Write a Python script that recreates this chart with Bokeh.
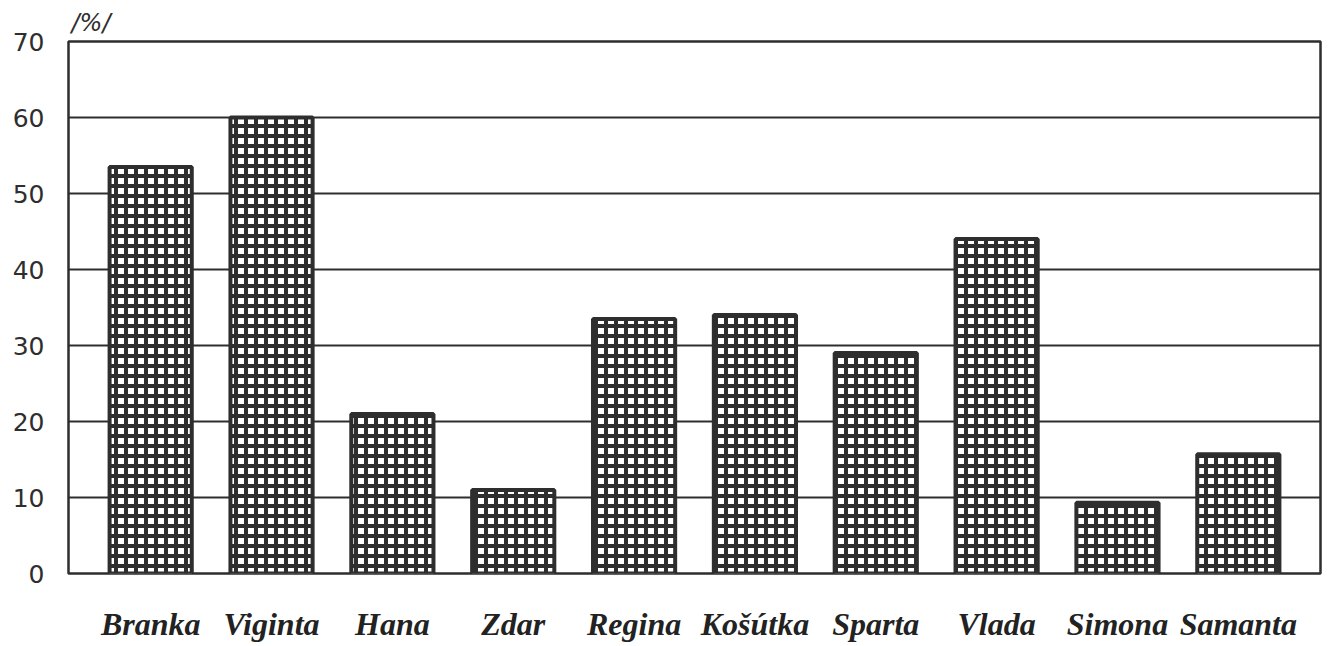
from bokeh.plotting import figure
from bokeh.models import ColumnDataSource, FactorRange, Range1d, FixedTicker
from bokeh.embed import file_html
from bokeh.resources import INLINE

names = ["Branka", "Viginta", "Hana", "Zdar", "Regina", "Košútka", "Sparta", "Vlada", "Simona", "Samanta"]
values = [53.5, 60, 21, 11, 33.5, 34, 29, 44, 9.3, 15.7]
y_ticks = [0, 10, 20, 30, 40, 50, 60, 70]
unit_label = "/%/"

INK = "#2e2e2e"

source = ColumnDataSource(data=dict(name=names, value=values))

p = figure(
    width=1322, height=644,
    x_range=FactorRange(factors=names, range_padding=0.18, range_padding_units="absolute"),
    y_range=Range1d(0, 70),
    output_backend="svg", toolbar_location=None,
    min_border_left=68, min_border_right=2, min_border_top=41, min_border_bottom=60,
    background_fill_color="white", border_fill_color="white",
)

p.vbar(x="name", top="value", width=0.68, source=source,
       fill_color="white", line_color=INK, line_width=4,
       hatch_pattern="+", hatch_color=INK, hatch_scale=10, hatch_weight=4)

p.title.text = unit_label
p.title.text_font = "DejaVu Sans"
p.title.text_font_style = "italic"
p.title.text_font_size = "24px"
p.title.text_color = INK
p.title.align = "left"
p.title.offset = 3

p.outline_line_color = INK
p.outline_line_width = 2.5

p.xgrid.grid_line_color = None
p.ygrid.grid_line_color = INK
p.ygrid.grid_line_width = 2
p.ygrid.ticker = FixedTicker(ticks=y_ticks)

p.yaxis.ticker = FixedTicker(ticks=y_ticks)
p.yaxis.axis_line_color = None
p.yaxis.major_tick_line_color = None
p.yaxis.minor_tick_line_color = None
p.yaxis.major_label_standoff = 18
p.yaxis.major_label_text_font = "DejaVu Sans"
p.yaxis.major_label_text_font_size = "25px"
p.yaxis.major_label_text_color = INK

p.xaxis.axis_line_color = None
p.xaxis.major_tick_line_color = None
p.xaxis.minor_tick_line_color = None
p.xaxis.major_label_standoff = 26
p.xaxis.major_label_text_font = "Liberation Serif"
p.xaxis.major_label_text_font_style = "bold italic"
p.xaxis.major_label_text_font_size = "32px"
p.xaxis.major_label_text_color = "#222222"

open("out.html", "w").write(file_html(p, INLINE))
